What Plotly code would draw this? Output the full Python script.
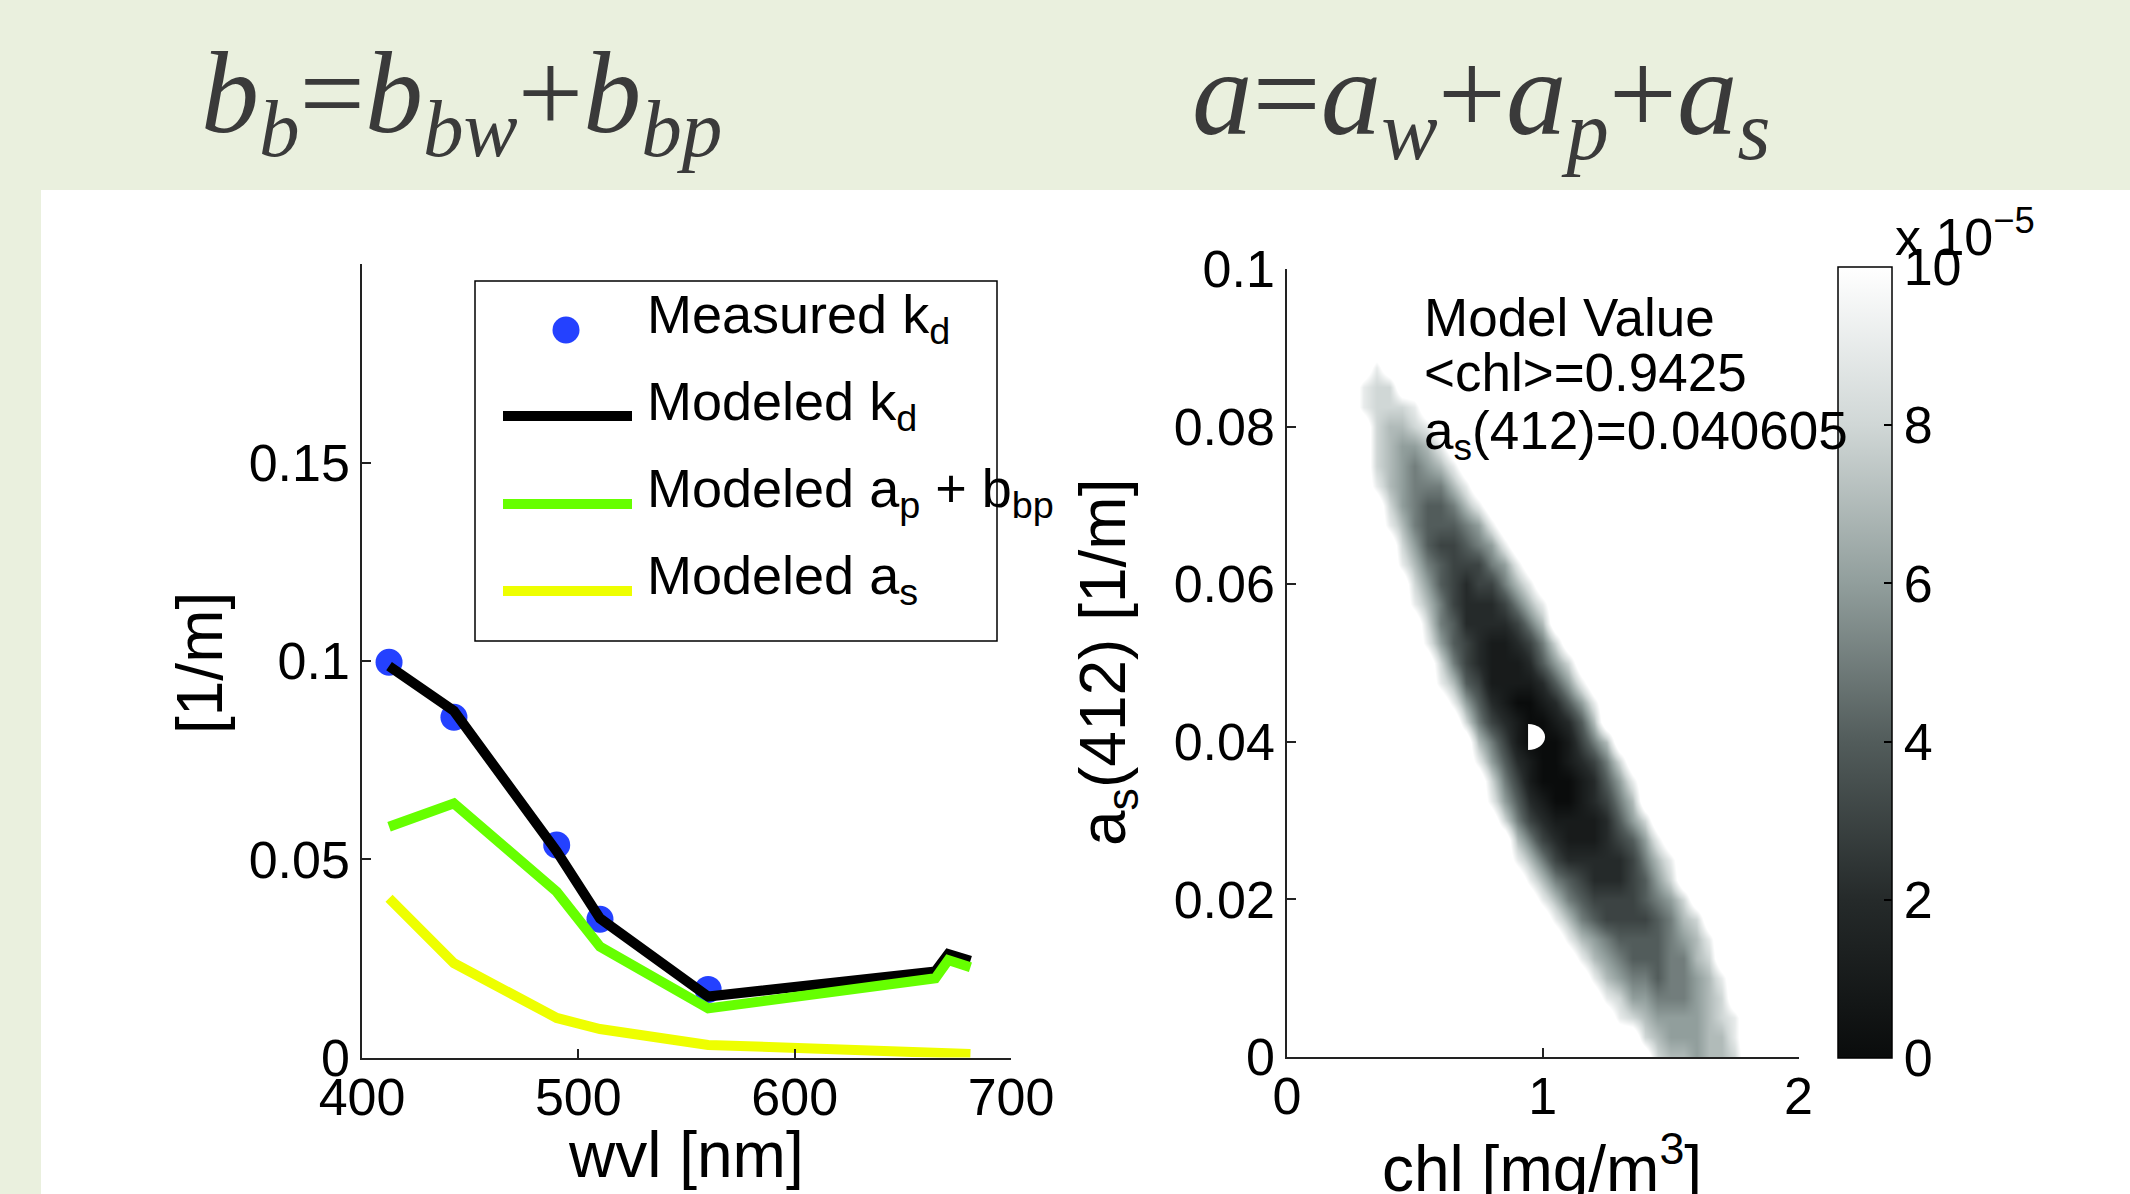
import plotly.graph_objects as go

W, H = 2130, 1194

# ---------------- left panel data ----------------
WVL_MEAS = [412.5, 442.5, 490, 510, 560]
KD_MEAS = [0.0997, 0.0858, 0.0536, 0.0349, 0.0172]
WVL_MODEL = [412.5, 442.5, 490, 510, 560, 665, 671, 681.25]
KD_MODEL = [0.0987, 0.0874, 0.0520, 0.0351, 0.0154, 0.0217, 0.0261, 0.0244]
APBBP_MODEL = [0.0582, 0.0641, 0.0418, 0.0280, 0.0124, 0.0200, 0.0246, 0.0228]
AS_MODEL = [0.0402, 0.0238, 0.0100, 0.0072, 0.0032, 0.0012, 0.0010, 0.0009]
LEFT_XTICKS = [400, 500, 600, 700]
LEFT_YTICKS = [0, 0.05, 0.1, 0.15]
LEFT_YTICKTEXT = ["0", "0.05", "0.1", "0.15"]

# ---------------- right panel data ----------------
CHL_BEST = 0.9425
AS_BEST = 0.040605
CHL_START, CHL_STEP, N_CHL = 0.0, 0.05, 41
AS_START, AS_STEP = 0.0, 0.0025
OUTSIDE = 12  # saturated (white) model value, in units of 1e-5
# model value map, in units of 1e-5, rows from a_s=0.1 (top) down to 0
# each row: (first chl column index, digits of the non-white cells)
HEAT_ROWS = [
    (0, ""), (0, ""), (0, ""), (0, ""), (0, ""),
    (7, "9"),
    (6, "988"),
    (6, "98889"),
    (7, "87789"),
    (7, "876679"),
    (7, "8765679"),
    (7, "97655579"),
    (8, "86544579"),
    (8, "975444569"),
    (9, "864334569"),
    (9, "9754333569"),
    (10, "8643233579"),
    (10, "97532223579"),
    (11, "8542222357"),
    (11, "96432112358"),
    (12, "85321112468"),
    (12, "974311112469"),
    (13, "964210012469"),
    (14, "85321001247"),
    (15, "75310001357"),
    (15, "964210012358"),
    (16, "853100012469"),
    (16, "964210012357"),
    (17, "853211112468"),
    (18, "753211123469"),
    (18, "9753222223579"),
    (19, "975432223468"),
    (20, "975433334568"),
    (21, "975433334578"),
    (22, "976544445679"),
    (23, "97654445578"),
    (24, "97655455679"),
    (25, "9866555678"),
    (26, "9876666789"),
    (28, "87666779"),
    (29, "8776778"),
]
RIGHT_XTICKS = [0, 1, 2]
RIGHT_YTICKS = [0, 0.02, 0.04, 0.06, 0.08, 0.1]
RIGHT_YTICKTEXT = ["0", "0.02", "0.04", "0.06", "0.08", "0.1"]
CBAR_TICKS = [0, 2, 4, 6, 8, 10]

z = []
for start, digits in HEAT_ROWS:
    row = [OUTSIDE] * N_CHL
    for k, ch in enumerate(digits):
        row[start + k] = int(ch)
    z.append(row)
z = z[::-1]

FONT = "Liberation Sans, Arial, sans-serif"
SERIF = "Liberation Serif, Times New Roman, serif"
BLUE = "#2441ff"
GREEN = "#66ff00"
YELLOW = "#eeff00"


def px(x):
    return x / W


def py(y):
    return 1 - y / H


fig = go.Figure()

fig.add_trace(go.Scatter(x=WVL_MEAS, y=KD_MEAS, mode="markers",
                         marker=dict(size=27, color=BLUE, line=dict(width=0)),
                         xaxis="x", yaxis="y", showlegend=False, cliponaxis=False))
fig.add_trace(go.Scatter(x=WVL_MODEL, y=KD_MODEL, mode="lines",
                         line=dict(color="black", width=10), xaxis="x", yaxis="y", showlegend=False))
fig.add_trace(go.Scatter(x=WVL_MODEL, y=APBBP_MODEL, mode="lines",
                         line=dict(color=GREEN, width=10), xaxis="x", yaxis="y", showlegend=False))
fig.add_trace(go.Scatter(x=WVL_MODEL, y=AS_MODEL, mode="lines",
                         line=dict(color=YELLOW, width=10), xaxis="x", yaxis="y", showlegend=False))

colorscale = [
    [0.0, "#0a0c0c"],
    [0.2, "#252a2a"],
    [0.4, "#525c5b"],
    [0.6, "#919e9c"],
    [0.8, "#d0d7d6"],
    [1.0, "#ffffff"],
]
fig.add_trace(go.Heatmap(
    z=z, x0=CHL_START, dx=CHL_STEP, y0=AS_START, dy=AS_STEP,
    zmin=0, zmax=10, colorscale=colorscale, zsmooth="best",
    xaxis="x2", yaxis="y2", hoverinfo="skip",
    colorbar=dict(
        x=px(1838), xanchor="left", xpad=0, ypad=0,
        y=py(1058), yanchor="bottom", len=(1058 - 267) / H, lenmode="fraction",
        thickness=54, thicknessmode="pixels",
        outlinecolor="black", outlinewidth=1.5,
        tickvals=CBAR_TICKS, ticktext=[str(t) for t in CBAR_TICKS],
        ticks="inside", ticklen=8, tickcolor="black", tickwidth=1.5,
        tickfont=dict(family=FONT, size=52, color="black"),
    ),
))

axis_common = dict(showgrid=False, zeroline=False, showline=True, linecolor="#222",
                   linewidth=1.5, ticks="inside", ticklen=9, tickwidth=1.5, tickcolor="#222",
                   automargin=False,
                   tickfont=dict(family=FONT, size=52, color="black"))

fig.update_layout(
    width=W, height=H,
    margin=dict(l=0, r=0, t=0, b=0, pad=0, autoexpand=False),
    paper_bgcolor="#eaf0de",
    plot_bgcolor="white",
    showlegend=False,
    xaxis=dict(domain=[px(362), px(1011)], range=[400, 700], tickvals=LEFT_XTICKS,
               anchor="y", ticklabelstandoff=-7, **axis_common),
    yaxis=dict(domain=[py(1057.6), py(264.4)], range=[0, 0.2], tickvals=LEFT_YTICKS,
               ticktext=LEFT_YTICKTEXT, anchor="x", **axis_common),
    xaxis2=dict(domain=[px(1287), px(1798.5)], range=[0, 2], tickvals=RIGHT_XTICKS,
                anchor="y2", ticklabelstandoff=-7, **axis_common),
    yaxis2=dict(domain=[py(1057), py(269)], range=[0, 0.1], tickvals=RIGHT_YTICKS,
                ticktext=RIGHT_YTICKTEXT, anchor="x2", **axis_common),
)

shapes = [
    # white panel
    dict(type="rect", xref="paper", yref="paper", x0=px(41), x1=1, y0=0, y1=py(190),
         fillcolor="white", line=dict(width=0), layer="below"),
    # legend box
    dict(type="rect", xref="paper", yref="paper", x0=px(475), x1=px(997), y0=py(641), y1=py(281),
         fillcolor="white", line=dict(color="black", width=1.5), layer="above"),
    dict(type="circle", xref="paper", yref="paper", x0=px(552.5), x1=px(579.5), y0=py(343.5), y1=py(316.5),
         fillcolor=BLUE, line=dict(width=0), layer="above"),
    dict(type="line", xref="paper", yref="paper", x0=px(503), x1=px(632), y0=py(416), y1=py(416),
         line=dict(color="black", width=10), layer="above"),
    dict(type="line", xref="paper", yref="paper", x0=px(503), x1=px(632), y0=py(504), y1=py(504),
         line=dict(color=GREEN, width=10), layer="above"),
    dict(type="line", xref="paper", yref="paper", x0=px(503), x1=px(632), y0=py(591), y1=py(591),
         line=dict(color=YELLOW, width=10), layer="above"),
    # best-fit marker (half disc)
    dict(type="path", xref="x2", yref="y2", xsizemode="pixel", ysizemode="pixel",
         xanchor=CHL_BEST, yanchor=AS_BEST,
         path="M0,13 C9.4,13 17,7.2 17,0 C17,-7.2 9.4,-13 0,-13 Z",
         fillcolor="white", line=dict(width=0), layer="above"),
]
fig.update_layout(shapes=shapes)

ann = []


def text(x, y, s, size=52, xanchor="left", yanchor="middle", family=FONT, color="black", angle=0):
    ann.append(dict(x=px(x), y=py(y), xref="paper", yref="paper", text=s, showarrow=False,
                    xanchor=xanchor, yanchor=yanchor, textangle=angle,
                    font=dict(family=family, size=size, color=color)))


# formulas in banner
text(199, 101, "<i>b<sub>b</sub></i>=<i>b<sub>bw</sub></i>+<i>b<sub>bp</sub></i>", size=116,
     family=SERIF, color="#3a3a3a")
text(1190, 101, "<i>a</i>=<i>a<sub>w</sub></i>+<i>a<sub>p</sub></i>+<i>a<sub>s</sub></i>", size=121,
     family=SERIF, color="#3a3a3a")

# legend texts
text(645, 318, "Measured k<sub>d</sub>", size=54)
text(645, 405, "Modeled k<sub>d</sub>", size=54)
text(645, 492, "Modeled a<sub>p</sub> + b<sub>bp</sub>", size=54)
text(645, 579, "Modeled a<sub>s</sub>", size=54)

# axis titles
text(686, 1155, "wvl [nm]", size=64, xanchor="center")
text(200, 663, "[1/m]", size=64, xanchor="center", angle=-90)
text(1107, 663, "a<sub>s</sub>(412) [1/m]", size=64, xanchor="center", angle=-90)
text(1542, 1164, "chl [mg/m<sup>3</sup>]", size=64, xanchor="center")

# model value text
text(1422, 317, "Model Value", size=53)
text(1422, 372, "&lt;chl&gt;=0.9425", size=53)
text(1422, 434, "a<sub>s</sub>(412)=0.040605", size=53)

# colorbar exponent
text(1893, 233, "x 10<sup>−5</sup>", size=52)

fig.update_layout(annotations=ann)

fig.write_html("out.html")
